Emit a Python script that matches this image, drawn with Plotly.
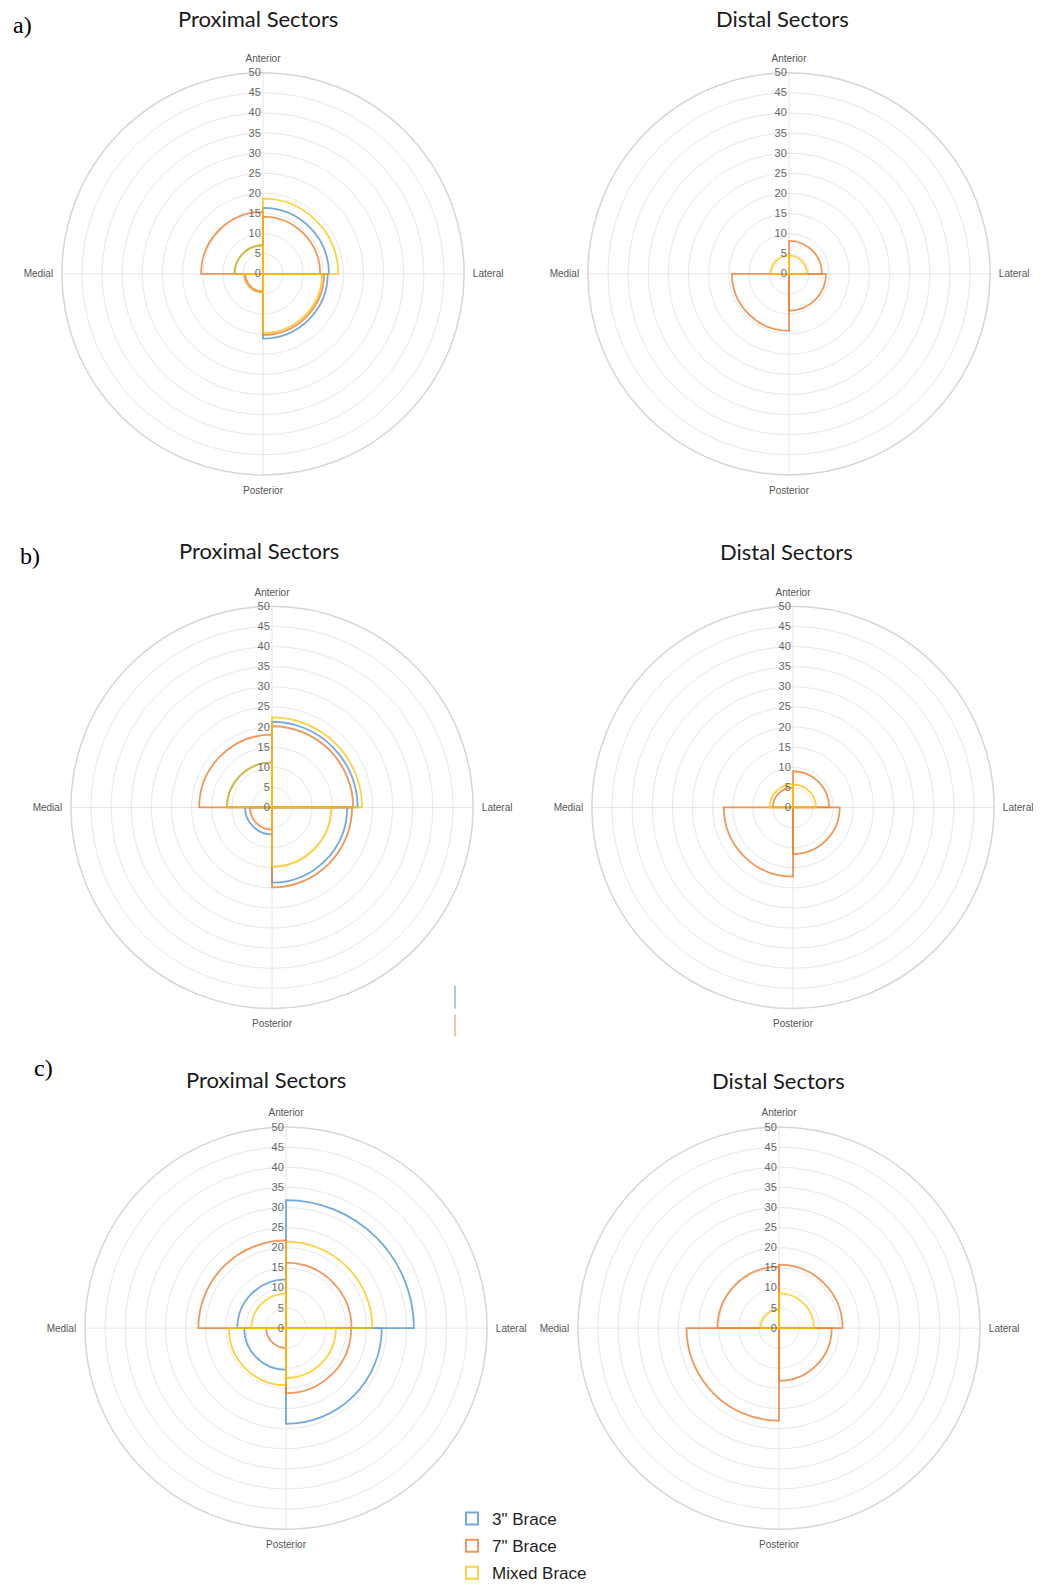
import plotly.graph_objects as go

W, H = 1045, 1591

# Sector order: Anterior-Lateral, Anterior-Medial, Posterior-Medial, Posterior-Lateral
sectors = ["Anterior-Lateral", "Anterior-Medial", "Posterior-Medial", "Posterior-Lateral"]
direction_labels = ["Lateral", "Anterior", "Medial", "Posterior"]
series_names = ['3" Brace', '7" Brace', "Mixed Brace"]
radial_ticks = list(range(0, 55, 5))

# a) Proximal
a_prox_3in = [16.4, 7.1, 4.6, 16.1]
a_prox_7in = [14.2, 15.4, 4.4, 15.2]
a_prox_mix = [18.7, 7.1, 4.6, 14.7]
# a) Distal
a_dist_3in = [0, 0, 0, 0]
a_dist_7in = [8.2, 0, 14.2, 9.2]
a_dist_mix = [4.5, 4.5, 0, 0]
# b) Proximal
b_prox_3in = [21.3, 11.2, 6.7, 18.7]
b_prox_7in = [20.2, 18.1, 5.5, 19.9]
b_prox_mix = [22.4, 11.2, 0, 14.7]
# b) Distal
b_dist_3in = [0, 0, 0, 0]
b_dist_7in = [9.0, 5.0, 17.2, 11.6]
b_dist_mix = [5.7, 5.8, 0, 0]
# c) Proximal
c_prox_3in = [31.8, 12.1, 10.4, 23.8]
c_prox_7in = [16.3, 21.8, 4.9, 16.2]
c_prox_mix = [21.5, 8.6, 14.2, 12.4]
# c) Distal
c_dist_3in = [0, 0, 0, 0]
c_dist_7in = [15.8, 15.3, 23.0, 13.1]
c_dist_mix = [8.7, 4.6, 0, 0]

panel_titles = ["Proximal Sectors", "Distal Sectors"] * 3
panel_letters = ["a)", "b)", "c)"]

panels = [
    (a_prox_3in, a_prox_7in, a_prox_mix),
    (a_dist_3in, a_dist_7in, a_dist_mix),
    (b_prox_3in, b_prox_7in, b_prox_mix),
    (b_dist_3in, b_dist_7in, b_dist_mix),
    (c_prox_3in, c_prox_7in, c_prox_mix),
    (c_dist_3in, c_dist_7in, c_dist_mix),
]

colors = ["rgba(91,155,213,0.85)", "rgba(237,125,49,0.80)", "rgba(255,192,0,0.75)"]

# layout geometry (pixels)
centers = [(263, 275), (789, 275), (272, 811), (793, 811), (286, 1334), (779, 1334)]
R = 202
title_pos = [(258, 19), (782, 19), (259, 553), (786, 554), (266, 1084), (778, 1085)]
letter_pos = [(22, 25), (30, 558), (43, 1073)]

theta = [45 + 90 * i for i in range(len(sectors))]

fig = go.Figure()
layout = dict(
    width=W, height=H, autosize=False,
    margin=dict(l=0, r=0, t=0, b=0),
    paper_bgcolor="white", plot_bgcolor="white",
    showlegend=True,
)

for p, (vals, (cx, cy)) in enumerate(zip(panels, centers)):
    pname = "polar" if p == 0 else f"polar{p+1}"
    for s, v in enumerate(vals):
        r = [x if x > 0 else None for x in v]
        fig.add_trace(go.Barpolar(
            r=r, theta=theta, width=[90] * len(theta),
            name=series_names[s], legendgroup=series_names[s],
            showlegend=(p == 4),
            marker=dict(color="rgba(0,0,0,0)",
                        line=dict(color=colors[s], width=1.8)),
            subplot=pname, hoverinfo="skip",
        ))
    layout[pname] = dict(
        domain=dict(x=[(cx - R) / W, (cx + R) / W],
                    y=[(H - cy - R) / H, (H - cy + R) / H]),
        bgcolor="white",
        barmode="overlay",
        angularaxis=dict(
            tickmode="array", tickvals=[0, 90, 180, 270], ticktext=direction_labels,
            direction="counterclockwise", rotation=0,
            showline=True, linecolor="#d6d6d6", linewidth=1.5,
            gridcolor="#e6e6e6", gridwidth=1,
            ticks="outside", ticklen=6, tickcolor="rgba(0,0,0,0)",
            tickfont=dict(family="Liberation Sans", size=10, color="#555555"),
        ),
        radialaxis=dict(
            range=[0, 50], tickmode="array", tickvals=radial_ticks,
            angle=90, side="counterclockwise", tickangle=90,
            showline=False, ticks="", gridcolor="#e8e8e8", gridwidth=1,
            tickfont=dict(family="Liberation Sans", size=11, color="#666666"),
        ),
    )

annotations = []
for t, (x, y) in zip(panel_titles, title_pos):
    annotations.append(dict(text=t, x=x / W, y=1 - y / H, xref="paper", yref="paper",
                            showarrow=False, xanchor="center", yanchor="middle",
                            font=dict(family="Lato", size=22, color="#1a1a1a")))
for t, (x, y) in zip(panel_letters, letter_pos):
    annotations.append(dict(text=t, x=x / W, y=1 - y / H, xref="paper", yref="paper",
                            showarrow=False, xanchor="center", yanchor="middle",
                            font=dict(family="Liberation Serif", size=24, color="black")))
layout["annotations"] = annotations

# cropped legend remnant in panel b
layout["shapes"] = [
    dict(type="line", xref="paper", yref="paper", x0=455 / W, x1=455 / W,
         y0=1 - 990 / H, y1=1 - 1013 / H, line=dict(color="rgba(91,155,213,0.7)", width=1.5)),
    dict(type="line", xref="paper", yref="paper", x0=455 / W, x1=455 / W,
         y0=1 - 1019 / H, y1=1 - 1041 / H, line=dict(color="rgba(237,125,49,0.6)", width=1.5)),
]

layout["legend"] = dict(
    x=452 / W, y=1 - 1508 / H, xanchor="left", yanchor="top",
    font=dict(family="Liberation Sans", size=17, color="#222222"),
    bgcolor="rgba(0,0,0,0)", tracegroupgap=2, itemsizing="constant",
)

fig.update_layout(**layout)
fig.write_html("out.html", config={"displayModeBar": False},
               post_script="document.body.style.margin='0';document.body.style.overflow='hidden';")
